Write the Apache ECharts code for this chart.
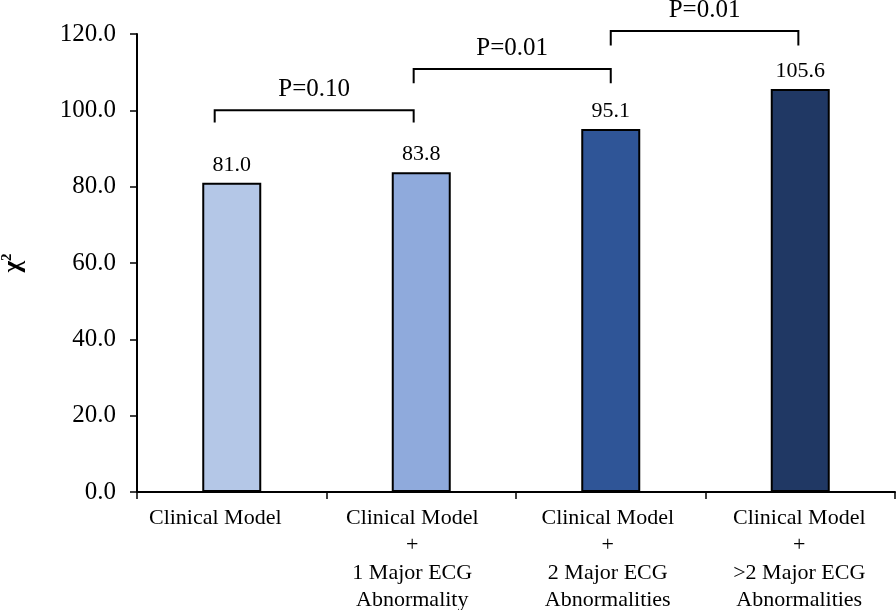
<!DOCTYPE html>
<html>
<head>
<meta charset="utf-8">
<script src="https://cdn.jsdelivr.net/npm/echarts@6/dist/echarts.min.js"></script>
<style>
  html, body { margin: 0; padding: 0; background: #fff; }
  #chart { width: 896px; height: 610px; }
</style>
</head>
<body>
<div id="chart"></div>
<script>
var categories = [
  'Clinical Model',
  'Clinical Model\n+\n1 Major ECG\nAbnormality',
  'Clinical Model\n+\n2 Major ECG\nAbnormalities',
  'Clinical Model\n+\n>2 Major ECG\nAbnormalities'
];
var values = [81.0, 83.8, 95.1, 105.6];
var barColors = ['#B4C7E7', '#8FAADC', '#2F5597', '#203864'];

// comparison brackets (x in category units, y in axis units)
var pLabels = ['P=0.10', 'P=0.01', 'P=0.01'];
var pFrom = [-0.09, 0.96, 2.0];
var pTo = [0.96, 2.0, 2.99];
var pTop = [100.0, 110.8, 120.8];
var pFoot = [96.8, 107.1, 117.0];

// labels in the original sit a little left of the bar centres
var labelShift = [33, 18, 6, 2];

var bracketData = [];
for (var i = 0; i < pLabels.length; i++) {
  bracketData.push([pFrom[i], pTo[i], pTop[i], pFoot[i], pLabels[i]]);
}

var font = 'Liberation Serif';
var myChart = echarts.init(document.getElementById('chart'));
var option = {
  animation: false,
  backgroundColor: '#fff',
  grid: { left: 137, right: 1, top: 34, bottom: 118, outerBoundsMode: 'none', containLabel: false },
  xAxis: [{
    type: 'category',
    data: categories.map(function (c, i) {
      return { value: c, textStyle: { padding: [0, labelShift[i], 0, 0] } };
    }),
    axisLine: { onZero: false, lineStyle: { color: '#000', width: 2 } },
    axisTick: { show: true, length: 7, lineStyle: { color: '#000', width: 1.5 } },
    axisLabel: {
      color: '#000', fontFamily: font, fontSize: 22, lineHeight: 27.5,
      margin: 12, interval: 0
    }
  }, {
    type: 'value', min: -0.5, max: 3.5, show: false
  }],
  yAxis: {
    type: 'value',
    min: 0, max: 120, interval: 20,
    name: '{a|χ}{b|2}',
    nameLocation: 'middle',
    nameRotate: 90,
    nameGap: 110,
    nameTextStyle: {
      color: '#000', fontFamily: font, fontSize: 25, fontWeight: 'bold',
      rich: {
        a: { fontFamily: font, fontSize: 25, fontWeight: 'bold', color: '#000' },
        b: { fontFamily: font, fontSize: 15, fontWeight: 'bold', color: '#000', padding: [0, 0, 12, 0] }
      }
    },
    splitLine: { show: false },
    axisLine: { show: true, onZero: false, lineStyle: { color: '#000', width: 2 } },
    axisTick: { show: true, inside: false, length: 7, lineStyle: { color: '#000', width: 1.5 } },
    axisLabel: {
      color: '#000', fontFamily: font, fontSize: 25, margin: 21,
      formatter: function (v) { return v.toFixed(1); }
    }
  },
  series: [{
    type: 'bar',
    xAxisIndex: 0,
    barWidth: 59,
    data: values.map(function (v, i) {
      return { value: v, itemStyle: { color: barColors[i] } };
    }),
    itemStyle: { borderColor: '#000', borderWidth: 2 },
    label: {
      show: true, position: 'top', distance: 7,
      color: '#000', fontFamily: font, fontSize: 22,
      formatter: function (p) { return p.value.toFixed(1); }
    }
  }, {
    type: 'custom',
    xAxisIndex: 1,
    clip: false,
    silent: true,
    data: bracketData,
    renderItem: function (params, api) {
      var a = api.coord([api.value(0), api.value(2)]);
      var b = api.coord([api.value(1), api.value(2)]);
      var foot = api.coord([api.value(0), api.value(3)]);
      var label = bracketData[params.dataIndex][4];
      return {
        type: 'group',
        children: [{
          type: 'polyline',
          shape: { points: [[a[0], foot[1]], a, b, [b[0], foot[1]]] },
          style: { stroke: '#000', lineWidth: 2, fill: null }
        }, {
          type: 'text',
          style: {
            x: (a[0] + b[0]) / 2, y: a[1] - 21,
            text: label, fill: '#000',
            font: '25px "Liberation Serif"',
            align: 'center', verticalAlign: 'middle'
          }
        }]
      };
    }
  }]
};
myChart.setOption(option);
</script>
</body>
</html>
